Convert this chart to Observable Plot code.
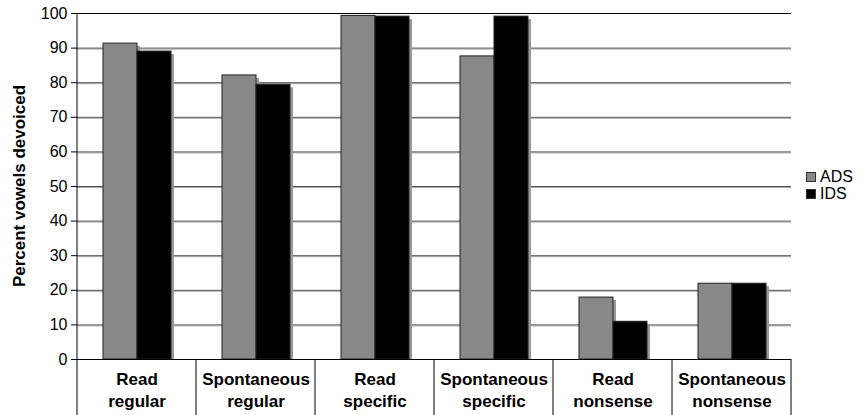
<!DOCTYPE html>
<html><head><meta charset="utf-8">
<script src="https://cdn.jsdelivr.net/npm/d3@7"></script>
<script src="https://cdn.jsdelivr.net/npm/@observablehq/plot@0.6"></script>
<style>
body{margin:0;background:#fff;font-family:"Liberation Sans",Arial,sans-serif}
#wrap{position:relative;width:865px;height:415px}
#legend{position:absolute;left:806px;top:168px;font-size:16px;line-height:17px;color:#000}
#legend div{white-space:nowrap}
.sw{display:inline-block;width:8px;height:8px;margin-right:4px;border:1px solid #333;vertical-align:0px}
</style></head><body><div id="wrap"><div id="legend"></div></div>
<script>
const categories = ["Read\nregular", "Spontaneous\nregular", "Read\nspecific", "Spontaneous\nspecific", "Read\nnonsense", "Spontaneous\nnonsense"];
const series = ["ADS", "IDS"];
const adsValues = [91.3, 82.1, 99.3, 87.6, 17.9, 21.9];
const idsValues = [89.0, 79.4, 99.1, 99.1, 10.9, 21.9];
const yTicks = [0, 10, 20, 30, 40, 50, 60, 70, 80, 90, 100];
const seriesColors = ["#888888", "#000000"];
const yLabel = "Percent vowels devoiced";

const data = categories.flatMap((c, i) => [
  {category: c, series: series[0], value: adsValues[i]},
  {category: c, series: series[1], value: idsValues[i]}
]);
const inner = yTicks.filter(t => t > 0 && t < 100);

const chart = Plot.plot({
  width: 865, height: 415,
  marginLeft: 75, marginRight: 72, marginTop: 13, marginBottom: 56,
  style: {fontFamily: "Liberation Sans, Arial, sans-serif", fontSize: "16px", background: "#fff", overflow: "visible", color: "#000"},
  fx: {domain: categories, padding: 0, label: null},
  x: {domain: series, paddingInner: 0, paddingOuter: 0.71, axis: null},
  y: {domain: [0, 100], label: null},
  color: {domain: series, range: seriesColors},
  marks: [
    Plot.ruleY(inner, {y: d => d, stroke: "#a8a8a8", dy: 1}),
    Plot.ruleY(inner, {y: d => d, stroke: "#555"}),
    Plot.barY(data, {fx: "category", x: "series", y: "value", fill: "#999", dx: 3, dy: 3, clip: true}),
    Plot.barY(data, {fx: "category", x: "series", y: "value", fill: "series", stroke: "#222", strokeWidth: 1}),
    Plot.ruleY([100], {stroke: "#000"}),
    Plot.ruleY([0], {stroke: "#000"}),
    Plot.axisY({ticks: yTicks, tickSize: 6, tickPadding: 4, fontSize: 16, label: null, anchor: "left"}),
    Plot.axisFx({anchor: "bottom", tickSize: 0, tickPadding: 10, fontSize: 17, fontWeight: "bold", lineHeight: 1.3, label: null})
  ]
});

const svg = d3.select(chart);
const fx = chart.scale("fx"), y = chart.scale("y");
const bounds = categories.map(c => fx.apply(c));
bounds.push(fx.apply(categories[categories.length - 1]) + fx.bandwidth);
const g = svg.append("g").attr("stroke", "#000").attr("stroke-width", 1);
bounds.forEach((bx, i) => {
  g.append("line").attr("x1", bx).attr("x2", bx)
    .attr("y1", i === 0 ? y.apply(100) : y.apply(0)).attr("y2", 415);
});
svg.append("text")
  .attr("transform", `translate(19,${(y.apply(0) + y.apply(100)) / 2}) rotate(-90)`)
  .attr("text-anchor", "middle").attr("dominant-baseline", "central")
  .attr("font-weight", "bold").attr("font-size", 17).attr("fill", "#000")
  .text(yLabel);

document.getElementById("wrap").appendChild(chart);
chart.style.position = "absolute"; chart.style.left = "0"; chart.style.top = "0";
const legend = d3.select("#legend");
series.forEach((s, i) => {
  const row = legend.append("div");
  row.append("span").attr("class", "sw").style("background", seriesColors[i]);
  row.append("span").text(s);
});
document.getElementById("wrap").appendChild(document.getElementById("legend"));
</script></body></html>
